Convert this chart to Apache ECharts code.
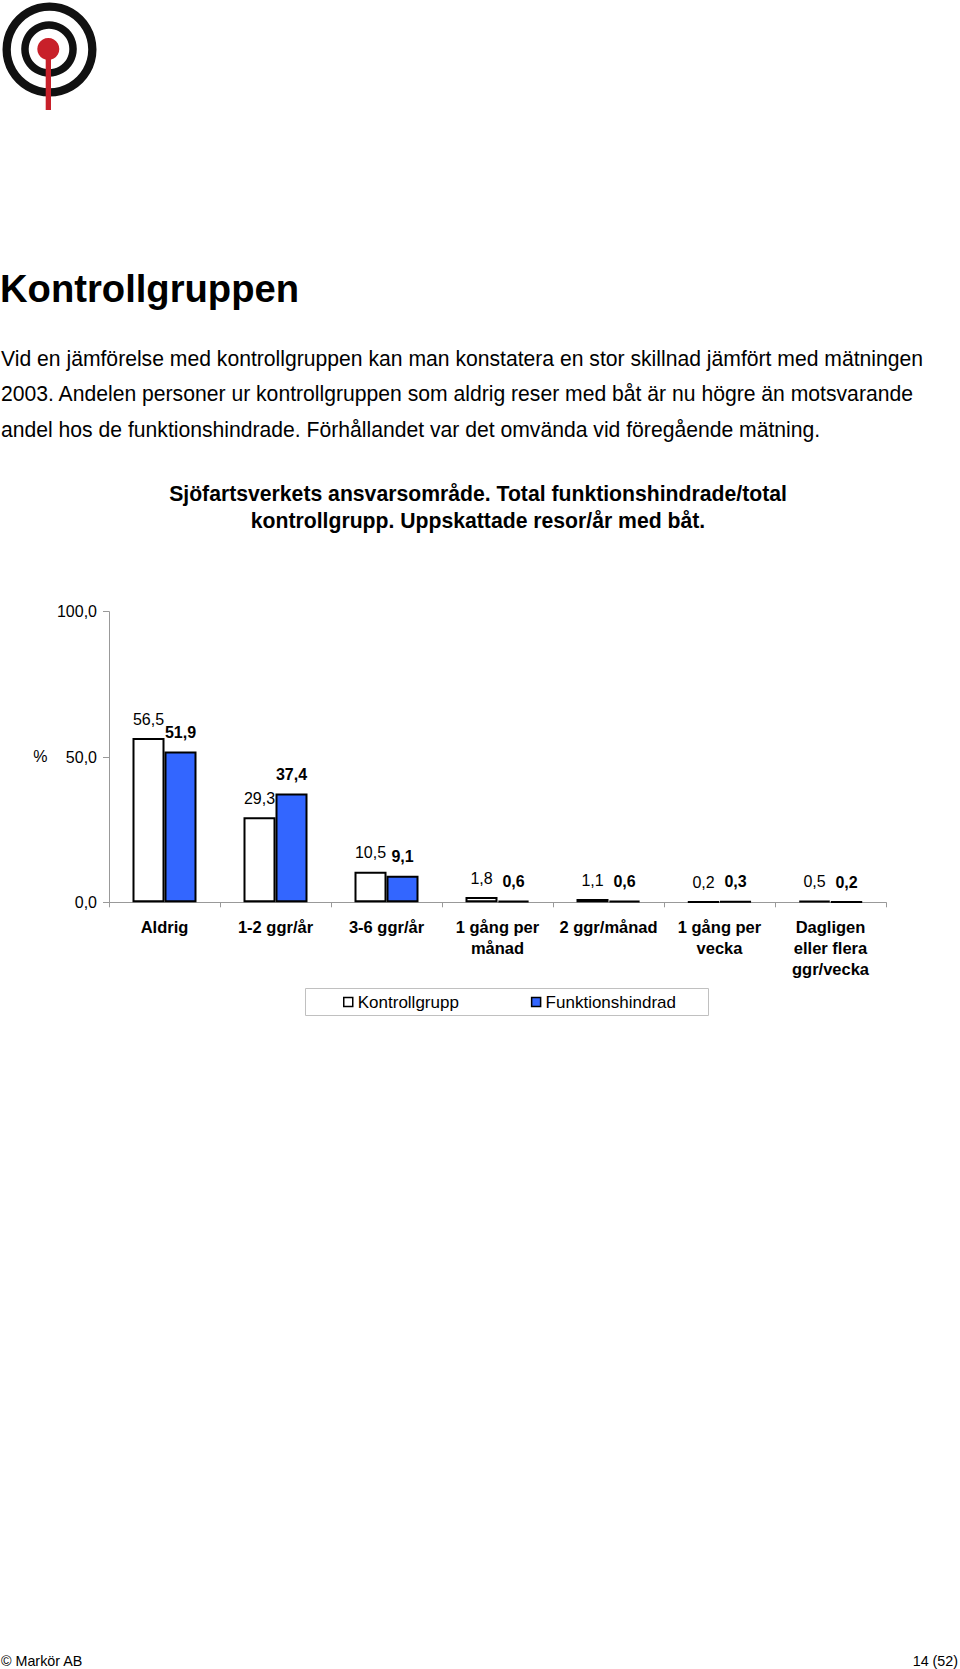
<!DOCTYPE html>
<html>
<head>
<meta charset="utf-8">
<script src="https://cdn.jsdelivr.net/npm/echarts@6/dist/echarts.min.js"></script>
<style>
html,body{margin:0;padding:0;background:#fff;}
body{width:960px;height:1669px;position:relative;overflow:hidden;font-family:'Liberation Sans',Arial,sans-serif;color:#000;}
#chart{position:absolute;left:0;top:0;width:960px;height:1669px;}
.t{position:absolute;white-space:nowrap;}
</style>
</head>
<body>
<div id="chart"></div>
<div class="t" style="left:0px;top:268.5px;font-size:38.2px;line-height:40px;font-weight:bold;">Kontrollgruppen</div>
<div class="t" style="left:1px;top:340.7px;font-size:21.15px;line-height:35.8px;">Vid en jämförelse med kontrollgruppen kan man konstatera en stor skillnad jämfört med mätningen<br>2003. Andelen personer ur kontrollgruppen som aldrig reser med båt är nu högre än motsvarande<br>andel hos de funktionshindrade. Förhållandet var det omvända vid föregående mätning.</div>
<div class="t" style="left:0;width:956px;text-align:center;top:481px;font-size:21.2px;line-height:26.5px;font-weight:bold;">Sjöfartsverkets ansvarsområde. Total funktionshindrade/total<br>kontrollgrupp. Uppskattade resor/år med båt.</div>
<div class="t" style="left:1px;top:1652.5px;font-size:14.3px;line-height:16px;">© Markör AB</div>
<div class="t" style="right:2px;top:1652.5px;font-size:14.3px;line-height:16px;">14 (52)</div>
<script>
// ---- data ----
const categories = ['Aldrig', '1-2 ggr/år', '3-6 ggr/år', '1 gång per\nmånad', '2 ggr/månad', '1 gång per\nvecka', 'Dagligen\neller flera\nggr/vecka'];
const kontrollgrupp = [56.5, 29.3, 10.5, 1.8, 1.1, 0.2, 0.5];
const funktionshindrad = [51.9, 37.4, 9.1, 0.6, 0.6, 0.3, 0.2];
const seriesNames = ['Kontrollgrupp', 'Funktionshindrad'];
const yMin = 0, yMax = 100, yStep = 50;
const yAxisName = '%';

const FONT = "'Liberation Sans', Arial, sans-serif";
const fmt = v => Number(v).toFixed(1).replace('.', ',');

const chart = echarts.init(document.getElementById('chart'), null, {renderer: 'svg', width: 960, height: 1669});
chart.setOption({
  animation: false,
  textStyle: {fontFamily: FONT},
  grid: {left: 109, top: 611.7, width: 777, height: 290.6, containLabel: false},
  legend: {
    data: seriesNames,
    left: 343, top: 993.5, padding: 0,
    itemWidth: 9, itemHeight: 9, itemGap: 72, icon: 'rect',
    itemStyle: {borderColor: '#000', borderWidth: 1.5},
    textStyle: {fontSize: 17, color: '#000', fontFamily: FONT}
  },
  xAxis: {
    type: 'category', data: categories,
    axisLine: {show: true, lineStyle: {color: '#999', width: 1}},
    axisTick: {show: true, length: 5, alignWithLabel: false, lineStyle: {color: '#999'}},
    axisLabel: {interval: 0, fontSize: 16.5, fontWeight: 'bold', lineHeight: 21, margin: 14, color: '#000', fontFamily: FONT},
    splitLine: {show: false}
  },
  yAxis: {
    type: 'value', min: yMin, max: yMax, interval: yStep,
    axisLine: {show: true, lineStyle: {color: '#999', width: 1}},
    axisTick: {show: true, length: 6, lineStyle: {color: '#999'}},
    axisLabel: {formatter: fmt, fontSize: 16, margin: 12, color: '#000', fontFamily: FONT},
    splitLine: {show: false}
  },
  series: [
    {
      type: 'bar', name: seriesNames[0], data: kontrollgrupp,
      barWidth: 32, barGap: '0%',
      itemStyle: {color: '#ffffff', borderColor: '#000', borderWidth: 2},
      label: {show: true, position: 'top', distance: 11, formatter: p => fmt(p.value), fontSize: 16, color: '#000', fontFamily: FONT}
    },
    {
      type: 'bar', name: seriesNames[1], data: funktionshindrad,
      barWidth: 32, barGap: '0%',
      itemStyle: {color: '#3366ff', borderColor: '#000', borderWidth: 2},
      label: {show: true, position: 'top', distance: 11, formatter: p => fmt(p.value), fontSize: 16, fontWeight: 'bold', color: '#000', fontFamily: FONT}
    }
  ],
  graphic: [
    {type: 'ring', shape: {cx: 49.5, cy: 49.5, r: 47, r0: 38.7}, style: {fill: '#111'}},
    {type: 'ring', shape: {cx: 49, cy: 49, r: 27.8, r0: 20.3}, style: {fill: '#111'}},
    {type: 'rect', shape: {x: 45.7, y: 49, width: 5.3, height: 61}, style: {fill: '#c8202a'}},
    {type: 'circle', shape: {cx: 48.3, cy: 49, r: 11}, style: {fill: '#c8202a'}},
    {type: 'rect', shape: {x: 305.5, y: 988.5, width: 403, height: 27}, style: {fill: 'none', stroke: '#c0c0c0', lineWidth: 1}},
    {type: 'text', x: 40.4, y: 756, style: {text: yAxisName, fontSize: 16, fill: '#000', align: 'center', verticalAlign: 'middle', fontFamily: FONT}}
  ]
});
</script>
</body>
</html>
